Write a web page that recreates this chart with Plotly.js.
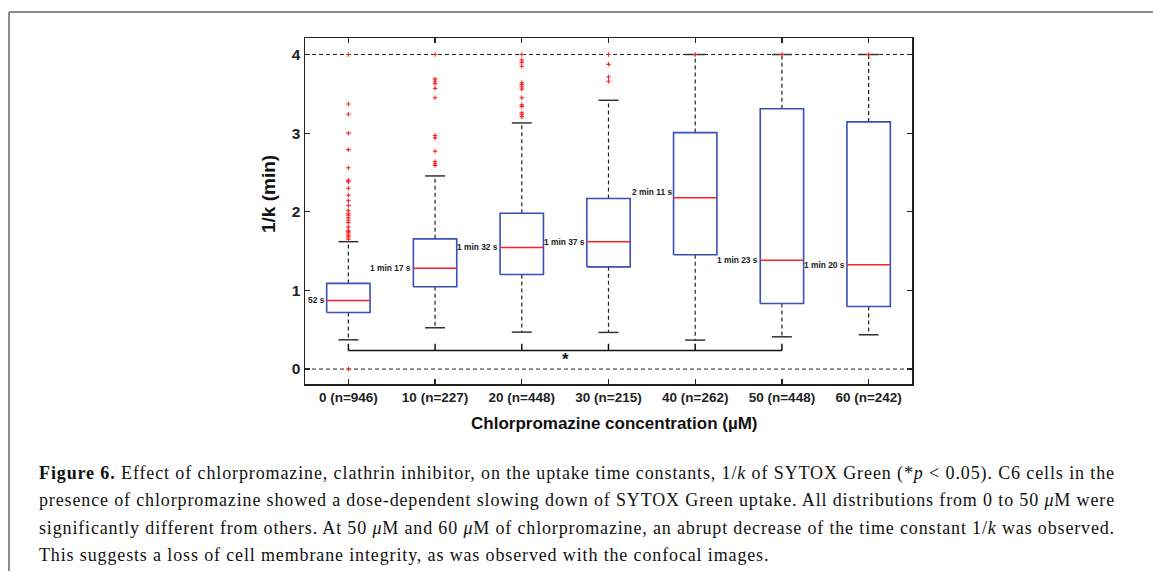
<!DOCTYPE html>
<html>
<head>
<meta charset="utf-8">
<script src="https://cdn.plot.ly/plotly-3.0.1.min.js"></script>
<style>
  html, body { margin: 0; padding: 0; background: #fff; }
  #chart { width: 1153px; height: 571px; }
</style>
</head>
<body>
<div id="chart"></div>
<script>
// ---- data ----
const categories = ["0 (n=946)", "10 (n=227)", "20 (n=448)", "30 (n=215)", "40 (n=262)", "50 (n=448)", "60 (n=242)"];
const lowerWhisker = [0.372, 0.525, 0.470, 0.466, 0.368, 0.410, 0.436];
const q1Values     = [0.720, 1.046, 1.203, 1.300, 1.453, 0.834, 0.796];
const medianValues = [0.873, 1.283, 1.546, 1.618, 2.180, 1.385, 1.325];
const q3Values     = [1.089, 1.656, 1.982, 2.169, 3.007, 3.310, 3.143];
const upperWhisker = [1.620, 2.456, 3.130, 3.418, 4.000, 4.000, 4.000];
const medianLabels = ["52 s", "1 min 17 s", "1 min 32 s", "1 min 37 s", "2 min 11 s", "1 min 23 s", "1 min 20 s"];
const outliers = [
  [0, 4.0, 3.37, 3.24, 3.0, 2.79, 2.56, 2.40, 2.38, 2.30, 2.21, 2.14, 2.08, 2.017, 1.982, 1.957, 1.923, 1.893, 1.864, 1.808, 1.766, 1.75, 1.732, 1.703, 1.681, 1.652],
  [4.0, 3.69, 3.66, 3.63, 3.57, 3.45, 2.97, 2.94, 2.77, 2.64, 2.61, 2.59],
  [4.0, 3.93, 3.90, 3.85, 3.64, 3.62, 3.59, 3.56, 3.45, 3.36, 3.34, 3.26, 3.24, 3.21],
  [4.0, 3.875, 3.715, 3.66],
  [4.0],
  [4.0],
  [4.0]
];
const referenceLines = [0, 4];
const yTicks = [0, 1, 2, 3, 4];
const significance = { from: 1, to: 6, level: 0.237, label: "*" };
const yTitle = "1/k (min)";
const xTitle = "Chlorpromazine concentration (µM)";
const captionLines = [
  "<b>Figure 6.</b> Effect of chlorpromazine, clathrin inhibitor, on the uptake time constants, 1/<i>k</i> of SYTOX Green (*<i>p</i> &lt; 0.05). C6 cells in the",
  "presence of chlorpromazine showed a dose-dependent slowing down of SYTOX Green uptake. All distributions from 0 to 50 <i>μ</i>M were",
  "significantly different from others. At 50 <i>μ</i>M and 60 <i>μ</i>M of chlorpromazine, an abrupt decrease of the time constant 1/<i>k</i> was observed.",
  "This suggests a loss of cell membrane integrity, as was observed with the confocal images."
];

// ---- geometry helpers (plot area in px) ----
const W = 1153, H = 571;
const L = 305, R = 912, T = 38, B = 384;
const px = v => (v - L) / (R - L);
const py = v => (B - v) / (B - T);
const halfBox = 0.25, halfCap = 0.115;
const xPos = categories.map((c, i) => i + 1);

// ---- build traces ----
const boxX = [], boxY = [], medX = [], medY = [], whX = [], whY = [], capX = [], capY = [], outX = [], outY = [];
xPos.forEach((x, i) => {
  boxX.push(x - halfBox, x + halfBox, x + halfBox, x - halfBox, x - halfBox, null);
  boxY.push(q1Values[i], q1Values[i], q3Values[i], q3Values[i], q1Values[i], null);
  medX.push(x - halfBox, x + halfBox, null);
  medY.push(medianValues[i], medianValues[i], null);
  whX.push(x, x, null, x, x, null);
  whY.push(q3Values[i], upperWhisker[i], null, q1Values[i], lowerWhisker[i], null);
  capX.push(x - halfCap, x + halfCap, null, x - halfCap, x + halfCap, null);
  capY.push(upperWhisker[i], upperWhisker[i], null, lowerWhisker[i], lowerWhisker[i], null);
  outliers[i].forEach(v => { outX.push(x); outY.push(v); });
});

const refX = [], refY = [];
referenceLines.forEach(v => { refX.push(0.5, 7.5, null); refY.push(v, v, null); });

const sigX = [significance.from, significance.to, null], sigY = [significance.level, significance.level, null];
for (let k = significance.from; k <= significance.to; k++) {
  sigX.push(k, k, null);
  sigY.push(significance.level, significance.level + 0.085, null);
}

const traces = [
  { x: refX, y: refY, mode: 'lines', line: { color: '#222', width: 1, dash: '4px,3px' }, hoverinfo: 'skip' },
  { x: whX, y: whY, mode: 'lines', line: { color: '#222', width: 1.2, dash: '4px,3px' }, hoverinfo: 'skip' },
  { x: capX, y: capY, mode: 'lines', line: { color: '#333', width: 1.5 }, hoverinfo: 'skip' },
  { x: boxX, y: boxY, mode: 'lines', line: { color: '#3a4fb5', width: 1.6 }, hoverinfo: 'skip' },
  { x: medX, y: medY, mode: 'lines', line: { color: '#ff2020', width: 1.5 }, hoverinfo: 'skip' },
  { x: outX, y: outY, mode: 'markers', marker: { symbol: 'cross-thin', size: 3.2, line: { color: '#ff2020', width: 1.1 } }, hoverinfo: 'skip' },
  { x: sigX, y: sigY, mode: 'lines', line: { color: '#111', width: 1.5 }, hoverinfo: 'skip' }
];

// ---- annotations ----
const bold = "Liberation Sans, Arial, sans-serif";
const annotations = [];
xPos.forEach((x, i) => {
  annotations.push({
    x: x - halfBox, y: medianValues[i], xref: 'x', yref: 'y',
    text: medianLabels[i], showarrow: false, xanchor: 'right', yanchor: 'middle',
    xshift: 0, yshift: i === 4 ? 6 : 0,
    font: { family: bold, size: 8.4, color: '#222', weight: 'bold' }
  });
});
annotations.push({
  x: (significance.from + significance.to) / 2 + 1 - (significance.to - significance.from) / 2 + 1.5, y: significance.level,
  xref: 'x', yref: 'y', text: '<b>' + significance.label + '</b>', showarrow: false,
  xanchor: 'center', yanchor: 'top', yshift: 2,
  font: { family: bold, size: 17, color: '#111' }
});
annotations.push({
  x: px(268), y: py(194), xref: 'paper', yref: 'paper', text: '<b>' + yTitle + '</b>',
  textangle: -90, showarrow: false, xanchor: 'center', yanchor: 'middle',
  font: { family: bold, size: 19, color: '#111' }
});
annotations.push({
  x: px(614), y: py(423), xref: 'paper', yref: 'paper', text: '<b>' + xTitle + '</b>',
  showarrow: false, xanchor: 'center', yanchor: 'middle',
  font: { family: bold, size: 17, color: '#111' }
});
const captionStart = annotations.length;
const capFont = { family: "Liberation Serif, 'Times New Roman', serif", size: 18, color: '#111' };
captionLines.forEach((t, k) => {
  annotations.push({
    x: px(37), y: py(473 + k * 27.3), xref: 'paper', yref: 'paper', text: t,
    showarrow: false, xanchor: 'left', yanchor: 'middle', align: 'left', font: capFont
  });
});

// ---- page frame ----
const shapes = [
  { type: 'line', xref: 'paper', yref: 'paper', x0: px(9), x1: px(W + 5), y0: py(12), y1: py(12), line: { color: '#8c8c8c', width: 2 } },
  { type: 'line', xref: 'paper', yref: 'paper', x0: px(9), x1: px(9), y0: py(12), y1: py(H + 5), line: { color: '#8c8c8c', width: 2 } }
];

const axisCommon = {
  showgrid: false, zeroline: false, showline: true, mirror: 'ticks',
  linecolor: '#222', linewidth: 1.5, ticks: 'inside', ticklen: 5, tickwidth: 1.2, tickcolor: '#222',
  tickfont: { family: bold, size: 15.5, color: '#222', weight: 'bold' }
};

const layout = {
  width: W, height: H,
  margin: { l: L, r: W - R, t: T, b: H - B },
  paper_bgcolor: '#fff', plot_bgcolor: '#fff',
  showlegend: false,
  xaxis: Object.assign({}, axisCommon, {
    type: 'linear', range: [0.5, 7.5], tickmode: 'array', tickvals: xPos, ticktext: categories,
    tickfont: { family: bold, size: 13.5, color: '#222', weight: 'bold' }
  }),
  yaxis: Object.assign({}, axisCommon, {
    range: [-0.19, 4.21], tickmode: 'array', tickvals: yTicks, ticktext: yTicks.map(String)
  }),
  annotations: annotations,
  shapes: shapes
};

Plotly.newPlot('chart', traces, layout, { displayModeBar: false, staticPlot: true }).then(gd => {
  // emulate the justified caption of the original page layout
  const targetWidth = 1113 - 37;
  const spacings = [];
  const els = [];
  captionLines.forEach((t, k) => {
    const g = gd.querySelector('g.annotation[data-index="' + (captionStart + k) + '"] text.annotation-text');
    els.push(g);
    if (g && k < captionLines.length - 1) {
      const w = g.getComputedTextLength();
      const n = g.textContent.length;
      const s = (targetWidth - w) / n;
      spacings.push(s);
      g.style.letterSpacing = s.toFixed(3) + 'px';
    }
  });
  const avg = spacings.length ? spacings.reduce((a, b) => a + b, 0) / spacings.length : 0;
  const last = els[els.length - 1];
  if (last) last.style.letterSpacing = avg.toFixed(3) + 'px';
});
</script>
</body>
</html>
